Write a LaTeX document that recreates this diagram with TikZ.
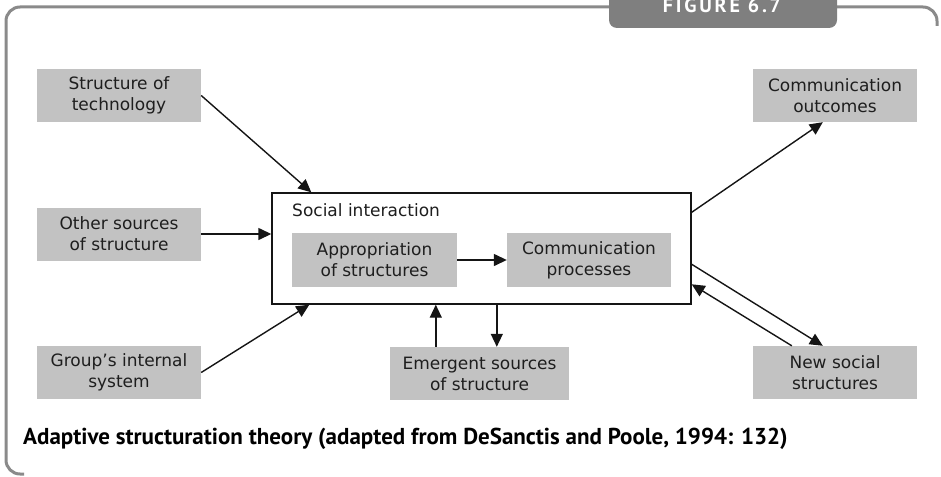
\documentclass[tikz,border=0pt]{standalone}
\usepackage{fontspec}
\setmainfont{DejaVu Sans}
\newfontfamily\capfont{PT Sans}
\newfontfamily\tabfont[LetterSpace=14]{PT Sans}
\usetikzlibrary{arrows.meta,calc}
\definecolor{framegray}{HTML}{8A8A8A}
\definecolor{tabgray}{HTML}{7F7F7F}
\definecolor{boxgray}{HTML}{C2C2C2}
\definecolor{textdark}{HTML}{1E1E1E}
\definecolor{linedark}{HTML}{151515}
\begin{document}
\begin{tikzpicture}[x=1pt,y=-1pt,
  box/.style={fill=boxgray, text=textdark, minimum width=164pt, minimum height=53pt,
    inner sep=0pt, align=center, font=\fontsize{17}{21}\selectfont},
  arr/.style={-{Triangle[length=13pt,width=12pt]}, line width=1.4pt, draw=linedark},
  frameline/.style={draw=framegray, line width=3pt}]
\useasboundingbox (0,0) rectangle (941,476);
\clip (0,0) rectangle (941,476);

% outer frame and figure tab
\draw[frameline, rounded corners=14pt] (24,474) -- (6,474) -- (6,7) -- (937,7) -- (937,26);
\fill[tabgray, rounded corners=8pt] (609,-20) rectangle (837,28);
\node[anchor=base, text=white, inner sep=0pt,
  font=\tabfont\bfseries\fontsize{20}{20}\selectfont] (tab) at (722,13) {FIGURE 6.7};

% input structures
\node[box] (tech)  at (119,95.5)  {Structure of\\technology};
\node[box] (other) at (119,234)   {Other sources\\of structure};
\node[box] (group) at (119,372.5) {Group’s internal\\system};

% social interaction
\node[draw=linedark, fill=white, line width=1.4pt, minimum width=419pt, minimum height=111pt,
  inner sep=0pt] (social) at (481.5,248.5) {};
\node[anchor=west, text=textdark, inner sep=0pt, font=\fontsize{17}{21}\selectfont]
  (sil) at (292,210) {Social interaction};
\node[box, minimum width=165pt, minimum height=54pt] (approp) at (374.5,260) {Appropriation\\of structures};
\node[box, minimum height=54pt] (commp) at (589,260) {Communication\\processes};

% outputs and feedback
\node[box, minimum width=179pt] (emerg) at (479.5,373.5) {Emergent sources\\of structure};
\node[box] (outc)  at (835,95.5)  {Communication\\outcomes};
\node[box] (newss) at (835,372.5) {New social\\structures};

% connectors
\draw[arr] (tech.east) -- ($(social.north west)+(40,0)$);
\draw[arr] (other.east) -- (social.west |- other.east);
\draw[arr] (group.east) -- ($(social.south west)+(38,0)$);
\draw[arr] (approp.east) -- (commp.west);
\coordinate (up) at ($(emerg.north west)+(46,0)$);
\coordinate (dn) at ($(emerg.north west)+(107,0)$);
\draw[arr] (up) -- (up |- social.south);
\draw[arr] (dn |- social.south) -- (dn);
\draw[arr] ($(social.north east)+(0,20)$) -- ($(outc.south west)+(70,0)$);
\draw[arr] ($(social.north east)+(0,72)$) -- ($(newss.north west)+(70,0)$);
\draw[arr] ($(newss.north west)+(39,0)$) -- ($(social.north east)+(0,92)$);

% caption
\node[anchor=west, text=black, inner sep=0pt,
  font=\capfont\bfseries\fontsize{23}{23}\selectfont] (cap) at (23,439)
  {Adaptive structuration theory (adapted from DeSanctis and Poole, 1994: 132)};
\end{tikzpicture}
\end{document}
